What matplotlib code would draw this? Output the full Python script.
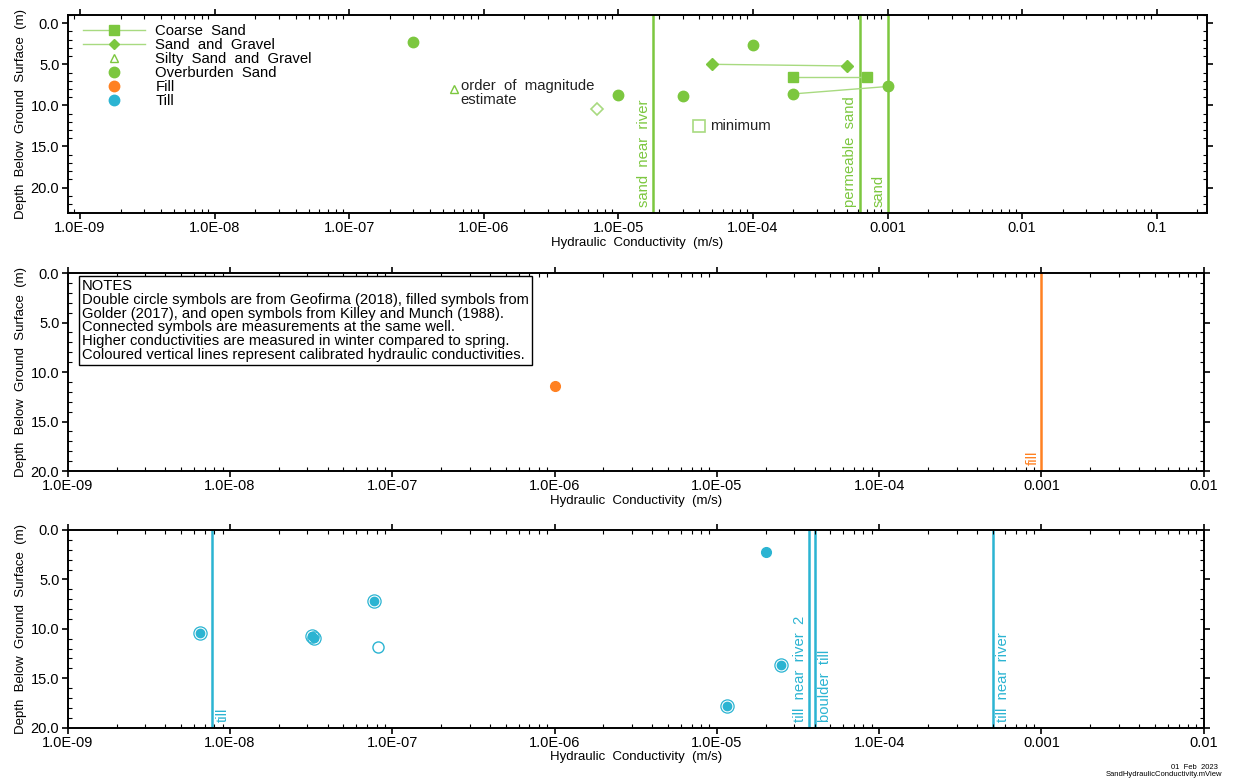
import numpy as np
import matplotlib.pyplot as plt
from matplotlib.lines import Line2D
from matplotlib.ticker import (FixedLocator, FixedFormatter, LogLocator,
                               MultipleLocator, FormatStrFormatter, NullFormatter)

plt.rcParams['font.family'] = ['Liberation Sans', 'DejaVu Sans']

# ---- colours ----
GREEN = '#7cc73f'
GREEN_LT = '#a8da80'
ORANGE = '#ff8122'
BLUE = '#2bb4d2'

# ---- tick labels ----
decades_top = [1e-9, 1e-8, 1e-7, 1e-6, 1e-5, 1e-4, 1e-3, 1e-2, 1e-1]
labels_top = ["1.0E-09", "1.0E-08", "1.0E-07", "1.0E-06", "1.0E-05",
              "1.0E-04", "0.001", "0.01", "0.1"]
decades_low = decades_top[:8]
labels_low = labels_top[:8]

# ---- sand panel ----
coarse_k = [2.0e-4, 7.0e-4]
coarse_d = [6.5, 6.5]
gravel_k = [5.0e-5, 5.0e-4]
gravel_d = [5.0, 5.2]
sand_pair_k = [2.0e-4, 1.0e-3]
sand_pair_d = [8.6, 7.7]
sand_k = [3.0e-7, 1.0e-4, 1.0e-5, 3.0e-5]
sand_d = [2.3, 2.6, 8.7, 8.9]
gravel_open_k = [7.0e-6]
gravel_open_d = [10.4]
sand_lines_k = [1.8e-5, 6.2e-4, 1.0e-3]
sand_lines_lbl = ["sand  near  river", "permeable  sand", "sand"]

# ---- fill panel ----
fill_k = [1.0e-6]
fill_d = [11.4]
fill_lines_k = [1.0e-3]
fill_lines_lbl = ["fill"]

# ---- till panel ----
till_dbl_k = [6.5e-9, 3.2e-8, 3.3e-8, 7.7e-8, 2.5e-5, 1.15e-5]
till_dbl_d = [10.4, 10.7, 10.9, 7.2, 13.7, 17.8]
till_fill_k = [2.0e-5]
till_fill_d = [2.2]
till_open_k = [8.2e-8]
till_open_d = [11.8]
till_lines_k = [7.8e-9, 3.7e-5, 4.0e-5, 5.0e-4]
till_lines_lbl = ["till", "till  near  river  2", "boulder  till", "till  near  river"]
till_lines_side = ["right", "left", "right", "right"]

notes = ("NOTES\n"
         "Double circle symbols are from Geofirma (2018), filled symbols from\n"
         "Golder (2017), and open symbols from Killey and Munch (1988).\n"
         "Connected symbols are measurements at the same well.\n"
         "Higher conductivities are measured in winter compared to spring.\n"
         "Coloured vertical lines represent calibrated hydraulic conductivities.")

FS = 10.7


def style_axis(ax, decades, labels, xlim, ylim):
    ax.set_xscale('log')
    ax.set_xlim(*xlim)
    ax.set_ylim(*ylim)
    ax.xaxis.set_major_locator(FixedLocator(decades))
    ax.xaxis.set_major_formatter(FixedFormatter(labels))
    ax.xaxis.set_minor_locator(LogLocator(base=10, subs=np.arange(2, 10), numticks=20))
    ax.xaxis.set_minor_formatter(NullFormatter())
    ax.yaxis.set_major_locator(MultipleLocator(5))
    ax.yaxis.set_minor_locator(MultipleLocator(1))
    ax.yaxis.set_major_formatter(FormatStrFormatter('%.1f'))
    ax.tick_params(which='major', direction='out', length=4, width=1.2,
                   top=True, right=True, labelsize=10.5, pad=2)
    ax.tick_params(which='minor', direction='in', length=3, width=0.8,
                   top=True, right=True)
    for s in ax.spines.values():
        s.set_linewidth(1.4)
    ax.set_xlabel("Hydraulic  Conductivity  (m/s)", fontsize=9.5, labelpad=1)
    ax.set_ylabel("Depth  Below  Ground  Surface  (m)", fontsize=9.5, labelpad=3)


def vline_labels(ax, ks, lbls, color, sides):
    for k, lbl, side in zip(ks, lbls, sides):
        ax.axvline(k, color=color, lw=1.8, zorder=1)
        dx = -1.5 if side == 'left' else 2.5
        ax.annotate(lbl, xy=(k, 0), xycoords=('data', 'axes fraction'),
                    xytext=(dx, 4), textcoords='offset points', rotation=90,
                    ha='right' if side == 'left' else 'left', va='bottom',
                    color=color, fontsize=FS)


fig = plt.figure(figsize=(12.33, 7.78), dpi=100)
ax1 = fig.add_axes([0.0549, 0.7262, 0.9238, 0.2545])
ax2 = fig.add_axes([0.0549, 0.3946, 0.9214, 0.2545])
ax3 = fig.add_axes([0.0549, 0.0647, 0.9214, 0.2541])

# ---- sand ----
style_axis(ax1, decades_top, labels_top, (8.1e-10, 0.2355), (23.1, -1.0))
vline_labels(ax1, sand_lines_k, sand_lines_lbl, GREEN, ['left'] * 3)
ax1.plot(coarse_k, coarse_d, '-', color=GREEN_LT, lw=1, zorder=2)
ax1.plot(coarse_k, coarse_d, 's', color=GREEN, ms=7, ls='none', zorder=3)
ax1.plot(gravel_k, gravel_d, '-', color=GREEN_LT, lw=1, zorder=2)
ax1.plot(gravel_k, gravel_d, 'D', color=GREEN, ms=6, ls='none', zorder=3)
ax1.plot(sand_pair_k, sand_pair_d, '-', color=GREEN_LT, lw=1, zorder=2)
ax1.plot(sand_pair_k, sand_pair_d, 'o', color=GREEN, ms=7.5, ls='none', zorder=3)
ax1.plot(sand_k, sand_d, 'o', color=GREEN, ms=7.5, ls='none', zorder=3)
ax1.plot(gravel_open_k, gravel_open_d, 'D', mfc='white', mec=GREEN_LT,
         mew=1.2, ms=6.5, ls='none', zorder=3)

# symbol keys drawn in the plot area
ax1.plot([6.0e-7], [8.0], '^', mfc='white', mec=GREEN, mew=1, ms=6, ls='none')
ax1.annotate("order  of  magnitude\nestimate", xy=(6.0e-7, 8.0), xytext=(5, -3),
             textcoords='offset points', ha='left', va='center', fontsize=FS,
             color='#222222', linespacing=0.95)
ax1.plot([4.0e-5], [12.5], 's', mfc='white', mec=GREEN_LT, mew=1.2, ms=8, ls='none')
ax1.annotate("minimum", xy=(4.0e-5, 12.5), xytext=(8, 0), textcoords='offset points',
             ha='left', va='center', fontsize=FS, color='#222222')

handles = [
    Line2D([], [], color=GREEN_LT, lw=1, marker='s', mfc=GREEN, mec=GREEN, ms=7),
    Line2D([], [], color=GREEN_LT, lw=1, marker='D', mfc=GREEN, mec=GREEN, ms=5.5),
    Line2D([], [], ls='none', marker='^', mfc='white', mec=GREEN, ms=6),
    Line2D([], [], ls='none', marker='o', color=GREEN, ms=7.5),
    Line2D([], [], ls='none', marker='o', color=ORANGE, ms=7.5),
    Line2D([], [], ls='none', marker='o', color=BLUE, ms=7.5),
]
names = ["Coarse  Sand", "Sand  and  Gravel", "Silty  Sand  and  Gravel",
         "Overburden  Sand", "Fill", "Till"]
ax1.legend(handles, names, loc='upper left', bbox_to_anchor=(0.004, 1.005),
           frameon=False, fontsize=FS, handlelength=4.2, handletextpad=0.7,
           labelspacing=0.0, borderpad=0.2)

# ---- fill ----
style_axis(ax2, decades_low, labels_low, (1e-9, 1e-2), (20, 0))
vline_labels(ax2, fill_lines_k, fill_lines_lbl, ORANGE, ['left'])
ax2.plot(fill_k, fill_d, 'o', color=ORANGE, ms=7, ls='none', zorder=3)
ax2.text(0.0125, 0.968, notes, transform=ax2.transAxes, ha='left', va='top',
         fontsize=10.6, linespacing=0.97,
         bbox=dict(boxstyle='square,pad=0.22', fc='white', ec='black', lw=1))

# ---- till ----
style_axis(ax3, decades_low, labels_low, (1e-9, 1e-2), (20, 0))
vline_labels(ax3, till_lines_k, till_lines_lbl, BLUE, till_lines_side)
ax3.plot(till_dbl_k, till_dbl_d, 'o', mfc='none', mec=BLUE, mew=0.9, ms=9.5,
         ls='none', zorder=3)
ax3.plot(till_dbl_k, till_dbl_d, 'o', color=BLUE, ms=6, ls='none', zorder=4)
ax3.plot(till_fill_k, till_fill_d, 'o', color=BLUE, ms=7, ls='none', zorder=3)
ax3.plot(till_open_k, till_open_d, 'o', mfc='white', mec=BLUE, mew=1, ms=8,
         ls='none', zorder=3)

fig.text(0.988, 0.0135, "01  Feb  2023", ha='right', va='center', fontsize=5.5)
fig.text(0.991, 0.0040, "SandHydraulicConductivity.mView", ha='right', va='center',
         fontsize=5.5)

fig.savefig("out.png", dpi=100)
